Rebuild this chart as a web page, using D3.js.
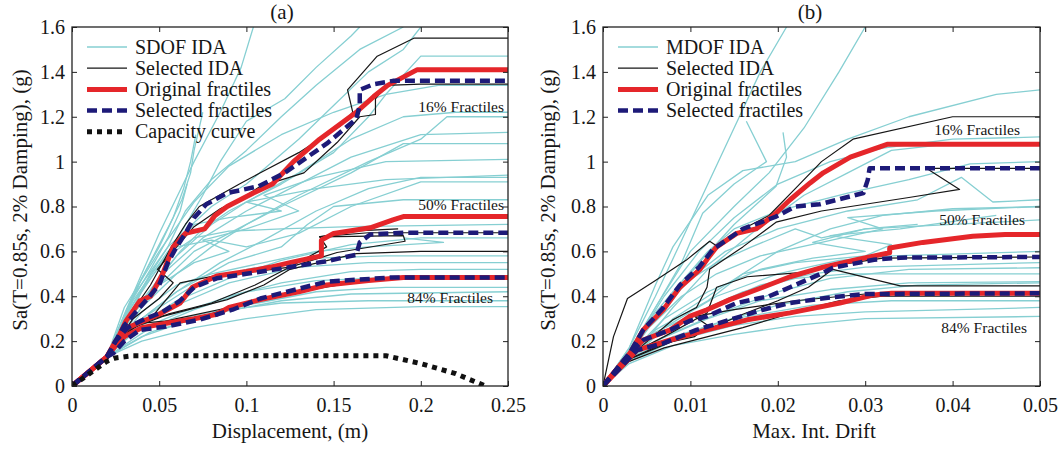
<!DOCTYPE html>
<html>
<head>
<meta charset="utf-8">
<script src="https://cdn.jsdelivr.net/npm/d3@7"></script>
<style>
  body { margin: 0; background: #fff; }
</style>
</head>
<body>
<svg id="chart" width="1062" height="450"></svg>
<script>
// ---------- tick values ----------
const saTicks = [0, 0.2, 0.4, 0.6, 0.8, 1, 1.2, 1.4, 1.6];
const dispTicks = [0, 0.05, 0.1, 0.15, 0.2, 0.25];
const driftTicks = [0, 0.01, 0.02, 0.03, 0.04, 0.05];

// ---------- (a) SDOF: [displacement (m), Sa (g)] ----------
const sdofIDA = [
  [[0,0],[0.02,0.13],[0.03,0.3],[0.04,0.48],[0.05,0.62],[0.058,0.75],[0.064,0.88],[0.068,1.0],[0.071,1.12]],
  [[0,0],[0.02,0.13],[0.03,0.32],[0.04,0.5],[0.05,0.68],[0.06,0.84],[0.07,1.0],[0.085,1.22],[0.097,1.42],[0.104,1.6]],
  [[0,0],[0.02,0.13],[0.032,0.3],[0.045,0.5],[0.055,0.62],[0.065,0.78],[0.08,0.92],[0.1,1.05],[0.12,1.2],[0.14,1.34],[0.165,1.5],[0.19,1.6]],
  [[0,0],[0.02,0.13],[0.035,0.32],[0.05,0.48],[0.062,0.6],[0.075,0.7],[0.09,0.78],[0.12,0.9],[0.15,1.04],[0.17,1.2],[0.18,1.3],[0.2,1.47],[0.25,1.47]],
  [[0,0],[0.02,0.13],[0.04,0.35],[0.06,0.5],[0.08,0.62],[0.1,0.72],[0.13,0.85],[0.17,1.0],[0.2,1.1],[0.215,1.2],[0.25,1.2]],
  [[0,0],[0.02,0.13],[0.04,0.3],[0.06,0.42],[0.085,0.55],[0.11,0.65],[0.14,0.78],[0.17,0.88],[0.2,0.93],[0.25,0.93]],
  [[0,0],[0.02,0.13],[0.035,0.3],[0.05,0.45],[0.07,0.6],[0.1,0.72],[0.12,0.8],[0.16,0.95],[0.19,1.08],[0.25,1.08]],
  [[0,0],[0.02,0.13],[0.04,0.28],[0.06,0.38],[0.09,0.48],[0.12,0.56],[0.16,0.63],[0.2,0.66],[0.25,0.66]],
  [[0,0],[0.02,0.13],[0.03,0.25],[0.05,0.35],[0.07,0.45],[0.1,0.52],[0.14,0.57],[0.18,0.58],[0.25,0.58]],
  [[0,0],[0.02,0.13],[0.035,0.24],[0.06,0.32],[0.09,0.4],[0.12,0.46],[0.16,0.51],[0.2,0.52],[0.25,0.52]],
  [[0,0],[0.02,0.13],[0.04,0.22],[0.07,0.3],[0.1,0.36],[0.14,0.42],[0.18,0.44],[0.25,0.44]],
  [[0,0],[0.02,0.13],[0.04,0.2],[0.07,0.26],[0.1,0.3],[0.14,0.34],[0.2,0.354],[0.25,0.354]],
  [[0,0],[0.02,0.13],[0.045,0.24],[0.08,0.32],[0.12,0.38],[0.16,0.41],[0.25,0.42]],
  [[0,0],[0.02,0.13],[0.04,0.27],[0.06,0.36],[0.09,0.46],[0.13,0.53],[0.17,0.55],[0.25,0.55]],
  [[0,0],[0.02,0.13],[0.03,0.28],[0.05,0.45],[0.07,0.55],[0.09,0.6],[0.075,0.65],[0.1,0.7],[0.13,0.78],[0.11,0.85],[0.14,0.93],[0.18,1.0],[0.25,1.01]],
  [[0,0],[0.02,0.13],[0.03,0.3],[0.045,0.5],[0.06,0.62],[0.08,0.65],[0.1,0.62],[0.13,0.68],[0.16,0.8],[0.2,0.91],[0.25,0.91]],
  [[0,0],[0.02,0.13],[0.028,0.28],[0.038,0.45],[0.048,0.6],[0.056,0.72],[0.063,0.83],[0.068,0.95],[0.07,1.05],[0.075,1.22]],
  [[0,0],[0.02,0.13],[0.032,0.35],[0.045,0.52],[0.055,0.66],[0.062,0.78],[0.066,0.9]],
  [[0,0],[0.02,0.13],[0.04,0.42],[0.06,0.65],[0.075,0.85],[0.085,1.0],[0.1,1.18],[0.122,1.28],[0.14,1.42],[0.16,1.56],[0.165,1.6]],
  [[0,0],[0.02,0.13],[0.035,0.38],[0.055,0.6],[0.07,0.72],[0.09,0.75],[0.12,0.78],[0.1,0.82],[0.14,0.88],[0.18,0.92],[0.25,0.94]],
  [[0,0],[0.02,0.13],[0.04,0.33],[0.06,0.45],[0.08,0.5],[0.11,0.55],[0.14,0.6],[0.17,0.62],[0.213,0.64],[0.19,0.66]],
  [[0,0],[0.02,0.13],[0.03,0.22],[0.05,0.28],[0.08,0.33],[0.12,0.37],[0.17,0.38],[0.25,0.38]],
  [[0,0],[0.02,0.13],[0.045,0.26],[0.07,0.34],[0.1,0.42],[0.14,0.47],[0.2,0.49],[0.25,0.49]],
  [[0,0],[0.02,0.13],[0.03,0.35],[0.05,0.6],[0.07,0.82],[0.09,0.98],[0.12,1.12],[0.15,1.22],[0.18,1.3],[0.21,1.34],[0.25,1.34]],
  [[0,0],[0.02,0.13],[0.035,0.4],[0.055,0.62],[0.08,0.8],[0.1,0.9],[0.13,1.1],[0.15,1.25],[0.17,1.4],[0.19,1.5],[0.2,1.6]],
  [[0,0],[0.02,0.13],[0.04,0.3],[0.06,0.42],[0.09,0.55],[0.12,0.62],[0.135,0.72],[0.15,0.8],[0.19,0.83],[0.25,0.83]],
  [[0,0],[0.02,0.13],[0.04,0.38],[0.06,0.58],[0.08,0.72],[0.1,0.82],[0.13,0.95],[0.16,1.1],[0.19,1.2],[0.22,1.22],[0.25,1.22]],
  [[0,0],[0.02,0.13],[0.035,0.33],[0.055,0.52],[0.075,0.66],[0.1,0.78],[0.13,0.9],[0.16,1.02],[0.2,1.12],[0.25,1.13]],
  [[0,0],[0.02,0.13],[0.03,0.3],[0.042,0.45],[0.055,0.58],[0.07,0.66],[0.09,0.69],[0.12,0.7],[0.16,0.71],[0.25,0.72]]
];

const sdofSelectedIDA = [
  [[0,0],[0.02,0.13],[0.03,0.28],[0.045,0.45],[0.057,0.62],[0.065,0.72],[0.073,0.8],[0.096,0.9],[0.108,0.95],[0.13,1.04],[0.154,1.16],[0.161,1.22],[0.158,1.32],[0.175,1.47],[0.196,1.55],[0.25,1.55]],
  [[0,0],[0.02,0.13],[0.035,0.3],[0.05,0.39],[0.058,0.46],[0.049,0.52],[0.06,0.62],[0.07,0.71],[0.085,0.79],[0.1,0.85],[0.108,0.89],[0.133,0.95],[0.152,1.085],[0.165,1.2],[0.174,1.21],[0.174,1.28],[0.18,1.34],[0.2,1.345],[0.25,1.345]],
  [[0,0],[0.02,0.13],[0.03,0.24],[0.045,0.3],[0.062,0.46],[0.081,0.49],[0.105,0.51],[0.125,0.53],[0.146,0.62],[0.142,0.666],[0.17,0.683],[0.25,0.683]],
  [[0,0],[0.02,0.13],[0.035,0.26],[0.052,0.31],[0.089,0.385],[0.11,0.45],[0.125,0.52],[0.163,0.59],[0.2,0.6],[0.25,0.6]],
  [[0,0],[0.02,0.13],[0.035,0.27],[0.055,0.32],[0.08,0.37],[0.105,0.45],[0.125,0.53],[0.152,0.595],[0.191,0.645],[0.19,0.67],[0.142,0.665],[0.16,0.69],[0.187,0.7]],
  [[0,0],[0.02,0.13],[0.03,0.23],[0.04,0.28],[0.055,0.29],[0.075,0.31],[0.1,0.37],[0.13,0.42],[0.16,0.46],[0.19,0.484],[0.25,0.484]],
  [[0,0],[0.02,0.13],[0.028,0.22],[0.04,0.26],[0.06,0.3],[0.09,0.35],[0.12,0.41],[0.15,0.455],[0.18,0.475],[0.25,0.478]]
];

const sdofOriginal16 = [[0,0],[0.02,0.13],[0.025,0.19],[0.031,0.29],[0.039,0.38],[0.045,0.4],[0.052,0.5],[0.058,0.62],[0.065,0.68],[0.076,0.7],[0.082,0.76],[0.089,0.8],[0.104,0.86],[0.115,0.9],[0.127,1.0],[0.142,1.1],[0.163,1.22],[0.173,1.29],[0.181,1.34],[0.198,1.41],[0.25,1.41]];
const sdofOriginal50 = [[0,0],[0.02,0.13],[0.025,0.2],[0.032,0.26],[0.041,0.29],[0.05,0.32],[0.062,0.37],[0.069,0.44],[0.083,0.49],[0.1,0.51],[0.114,0.53],[0.125,0.55],[0.143,0.58],[0.143,0.65],[0.15,0.68],[0.171,0.705],[0.184,0.74],[0.19,0.755],[0.25,0.755]];
const sdofOriginal84 = [[0,0],[0.02,0.13],[0.025,0.18],[0.03,0.22],[0.04,0.26],[0.054,0.28],[0.07,0.3],[0.083,0.32],[0.09,0.35],[0.108,0.385],[0.13,0.42],[0.146,0.45],[0.17,0.47],[0.19,0.484],[0.25,0.484]];
const sdofSelected16 = [[0,0],[0.02,0.13],[0.025,0.2],[0.03,0.27],[0.04,0.36],[0.05,0.45],[0.055,0.55],[0.06,0.62],[0.065,0.68],[0.07,0.75],[0.077,0.81],[0.089,0.86],[0.107,0.89],[0.122,0.95],[0.146,1.08],[0.163,1.19],[0.165,1.25],[0.165,1.32],[0.173,1.345],[0.184,1.36],[0.25,1.36]];
const sdofSelected50 = [[0,0],[0.02,0.13],[0.025,0.2],[0.032,0.26],[0.042,0.3],[0.052,0.33],[0.062,0.38],[0.07,0.44],[0.083,0.48],[0.1,0.5],[0.125,0.53],[0.145,0.555],[0.163,0.585],[0.165,0.64],[0.171,0.675],[0.19,0.683],[0.25,0.683]];
const sdofSelected84 = [[0,0],[0.02,0.13],[0.0237,0.146],[0.03,0.2],[0.039,0.25],[0.054,0.265],[0.073,0.295],[0.092,0.34],[0.108,0.39],[0.146,0.465],[0.184,0.484],[0.25,0.484]];
const capacityCurve = [[0,0],[0.02,0.11],[0.025,0.125],[0.035,0.135],[0.18,0.135],[0.2,0.1],[0.22,0.055],[0.237,0]];

// ---------- (b) MDOF: [max. interstorey drift, Sa (g)] ----------
const mdofIDA = [
  [[0,0],[0.003,0.15],[0.006,0.35],[0.009,0.55],[0.0114,0.77],[0.015,0.9],[0.0187,1.0],[0.0164,1.18]],
  [[0,0],[0.003,0.15],[0.007,0.35],[0.011,0.55],[0.015,0.72],[0.0198,0.89],[0.021,1.02],[0.0206,1.13]],
  [[0,0],[0.003,0.16],[0.006,0.35],[0.01,0.6],[0.015,0.8],[0.019,0.95],[0.023,1.15],[0.027,1.4],[0.03,1.6]],
  [[0,0],[0.003,0.17],[0.006,0.45],[0.008,0.62],[0.012,0.85],[0.016,0.96],[0.022,1.0],[0.028,1.1],[0.035,1.2],[0.045,1.3],[0.05,1.32]],
  [[0,0],[0.003,0.15],[0.007,0.4],[0.011,0.6],[0.015,0.75],[0.02,0.9],[0.026,1.0],[0.032,1.06],[0.04,1.1],[0.05,1.11]],
  [[0,0],[0.004,0.16],[0.008,0.35],[0.012,0.52],[0.017,0.68],[0.023,0.85],[0.028,0.95],[0.033,1.05],[0.04,1.08],[0.05,1.085]],
  [[0,0],[0.004,0.15],[0.008,0.3],[0.014,0.45],[0.02,0.6],[0.026,0.7],[0.032,0.76],[0.04,0.79],[0.05,0.8]],
  [[0,0],[0.003,0.12],[0.006,0.22],[0.012,0.35],[0.018,0.45],[0.024,0.5],[0.03,0.53],[0.05,0.55]],
  [[0,0],[0.003,0.12],[0.007,0.22],[0.013,0.32],[0.02,0.42],[0.026,0.48],[0.035,0.52],[0.05,0.527]],
  [[0,0],[0.003,0.14],[0.006,0.25],[0.012,0.38],[0.016,0.5],[0.022,0.55],[0.03,0.58],[0.033,0.63],[0.026,0.67],[0.034,0.7],[0.045,0.76]],
  [[0,0],[0.003,0.12],[0.007,0.2],[0.013,0.28],[0.02,0.36],[0.028,0.42],[0.036,0.45],[0.05,0.46]],
  [[0,0],[0.003,0.11],[0.008,0.2],[0.015,0.27],[0.022,0.31],[0.03,0.33],[0.05,0.35]],
  [[0,0],[0.003,0.1],[0.008,0.18],[0.015,0.23],[0.022,0.27],[0.03,0.3],[0.05,0.31]],
  [[0,0],[0.003,0.12],[0.006,0.2],[0.012,0.3],[0.018,0.38],[0.026,0.43],[0.035,0.46],[0.05,0.465]],
  [[0,0],[0.003,0.15],[0.005,0.25],[0.009,0.4],[0.013,0.5],[0.018,0.58],[0.025,0.64],[0.032,0.7],[0.028,0.75],[0.038,0.78],[0.05,0.8]],
  [[0,0],[0.003,0.16],[0.005,0.28],[0.008,0.42],[0.012,0.6],[0.015,0.7],[0.02,0.78],[0.028,0.86],[0.035,0.92],[0.042,0.99],[0.05,1.0]],
  [[0,0],[0.003,0.13],[0.007,0.26],[0.013,0.4],[0.02,0.5],[0.027,0.56],[0.033,0.58],[0.05,0.6]],
  [[0,0],[0.003,0.14],[0.007,0.3],[0.012,0.42],[0.018,0.52],[0.024,0.57],[0.03,0.6],[0.024,0.64],[0.03,0.7],[0.036,0.72]],
  [[0,0],[0.003,0.11],[0.008,0.22],[0.015,0.3],[0.024,0.36],[0.033,0.38],[0.05,0.38]],
  [[0,0],[0.003,0.13],[0.006,0.24],[0.011,0.33],[0.016,0.42],[0.022,0.48],[0.028,0.5],[0.05,0.5]],
  [[0,0],[0.003,0.14],[0.006,0.3],[0.01,0.48],[0.014,0.6],[0.02,0.7],[0.028,0.78],[0.036,0.83],[0.041,0.93],[0.0446,0.82],[0.05,0.83]],
  [[0,0],[0.003,0.15],[0.006,0.3],[0.009,0.45],[0.013,0.55],[0.017,0.62],[0.022,0.7],[0.025,0.66],[0.03,0.7],[0.04,0.72],[0.05,0.74]],
  [[0,0],[0.003,0.17],[0.006,0.4],[0.009,0.65],[0.012,0.9],[0.015,1.15],[0.018,1.4],[0.021,1.6]]
];

const mdofSelectedIDA = [
  [[0,0],[0.0012,0.22],[0.0028,0.39],[0.006,0.47],[0.0095,0.56],[0.0122,0.645],[0.0132,0.62],[0.016,0.7],[0.019,0.76],[0.022,0.88],[0.025,1.0],[0.0286,1.1],[0.04,1.2],[0.05,1.2]],
  [[0,0],[0.003,0.13],[0.006,0.23],[0.008,0.295],[0.0107,0.35],[0.0119,0.44],[0.0122,0.52],[0.016,0.62],[0.0198,0.73],[0.025,0.78],[0.035,0.84],[0.0408,0.876],[0.037,0.97],[0.05,0.97]],
  [[0,0],[0.003,0.14],[0.007,0.22],[0.0119,0.325],[0.013,0.44],[0.0165,0.487],[0.0225,0.505],[0.027,0.54],[0.032,0.57],[0.05,0.575]],
  [[0,0],[0.003,0.12],[0.008,0.2],[0.0119,0.25],[0.016,0.32],[0.02,0.38],[0.0235,0.44],[0.0263,0.52],[0.034,0.446],[0.05,0.446]],
  [[0,0],[0.003,0.11],[0.007,0.17],[0.011,0.21],[0.016,0.26],[0.022,0.33],[0.027,0.38],[0.032,0.4],[0.05,0.4]],
  [[0,0],[0.003,0.12],[0.007,0.19],[0.0105,0.22],[0.012,0.27],[0.0105,0.31],[0.015,0.34],[0.022,0.38],[0.03,0.41],[0.05,0.413]]
];

const mdofOriginal16 = [[0,0],[0.0031,0.146],[0.0046,0.25],[0.0069,0.34],[0.0088,0.44],[0.0111,0.52],[0.0122,0.58],[0.013,0.62],[0.0153,0.68],[0.0175,0.7],[0.0195,0.76],[0.0214,0.83],[0.0237,0.905],[0.0252,0.95],[0.0283,1.02],[0.0325,1.077],[0.05,1.077]];
const mdofOriginal50 = [[0,0],[0.0031,0.146],[0.0046,0.205],[0.0077,0.25],[0.0099,0.31],[0.0119,0.34],[0.0145,0.385],[0.0183,0.44],[0.0214,0.487],[0.0252,0.53],[0.029,0.563],[0.0328,0.594],[0.0328,0.615],[0.0366,0.64],[0.0423,0.667],[0.046,0.675],[0.05,0.675]];
const mdofOriginal84 = [[0,0],[0.0039,0.16],[0.0077,0.205],[0.0119,0.25],[0.0165,0.295],[0.0214,0.326],[0.0271,0.37],[0.031,0.406],[0.033,0.413],[0.05,0.413]];
const mdofSelected16 = [[0,0],[0.0031,0.15],[0.0046,0.25],[0.0069,0.35],[0.0088,0.45],[0.011,0.53],[0.0126,0.61],[0.016,0.7],[0.0198,0.755],[0.022,0.8],[0.0248,0.81],[0.0298,0.86],[0.0303,0.92],[0.0305,0.97],[0.05,0.97]];
const mdofSelected50 = [[0,0],[0.0031,0.146],[0.0046,0.205],[0.0077,0.25],[0.0099,0.29],[0.0119,0.31],[0.0153,0.37],[0.019,0.4],[0.0214,0.44],[0.0252,0.505],[0.0263,0.527],[0.031,0.563],[0.034,0.572],[0.05,0.575]];
const mdofSelected84 = [[0,0],[0.0039,0.16],[0.0069,0.19],[0.0107,0.25],[0.0145,0.295],[0.0183,0.34],[0.0214,0.37],[0.026,0.395],[0.03,0.41],[0.05,0.413]];

// ---------- styles ----------
const FONT = "'Liberation Serif', 'Times New Roman', Times, serif";
const COLORS = { ida: "#86cfd2", sel: "#161616", orig: "#e5262a", fract: "#1d1a78", cap: "#111" };
const STYLES = {
  ida:   { stroke: COLORS.ida,   width: 1.3, dash: null },
  sel:   { stroke: COLORS.sel,   width: 1.2, dash: null },
  orig:  { stroke: COLORS.orig,  width: 5,   dash: null },
  fract: { stroke: COLORS.fract, width: 4.5, dash: "10,5" },
  cap:   { stroke: COLORS.cap,   width: 5,   dash: "5,5" }
};

const svg = d3.select("#chart");
const TOP = 27, BOTTOM = 386;
const fmt = d3.format("~g");

function drawPanel(p) {
  const x = d3.scaleLinear().domain([0, p.xTicks[p.xTicks.length - 1]]).range([p.left, p.right]);
  const y = d3.scaleLinear().domain([0, 1.6]).range([BOTTOM, TOP]);
  const line = d3.line().x(d => x(d[0])).y(d => y(d[1]));

  svg.append("clipPath").attr("id", p.id + "-clip")
    .append("rect").attr("x", p.left).attr("y", TOP).attr("width", p.right - p.left).attr("height", BOTTOM - TOP);

  const plot = svg.append("g").attr("clip-path", `url(#${p.id}-clip)`);

  function addLines(data, st) {
    plot.append("g").selectAll("path").data(data).join("path")
      .attr("d", line).attr("fill", "none")
      .attr("stroke", st.stroke).attr("stroke-width", st.width)
      .attr("stroke-dasharray", st.dash).attr("stroke-linejoin", "round");
  }
  addLines(p.ida, STYLES.ida);
  addLines(p.selected, STYLES.sel);
  addLines(p.original, STYLES.orig);
  addLines(p.fractiles, STYLES.fract);
  if (p.capacity) addLines([p.capacity], STYLES.cap);

  // axes with inward ticks on all four sides
  const axes = [
    svg.append("g").attr("transform", `translate(0,${BOTTOM})`)
      .call(d3.axisBottom(x).tickValues(p.xTicks).tickFormat(fmt).tickSizeInner(-5).tickSizeOuter(0).tickPadding(12)),
    svg.append("g").attr("transform", `translate(${p.left},0)`)
      .call(d3.axisLeft(y).tickValues(saTicks).tickFormat(fmt).tickSizeInner(-5).tickSizeOuter(0).tickPadding(7)),
    svg.append("g").attr("transform", `translate(0,${TOP})`)
      .call(d3.axisTop(x).tickValues(p.xTicks).tickFormat("").tickSizeInner(-5).tickSizeOuter(0)),
    svg.append("g").attr("transform", `translate(${p.right},0)`)
      .call(d3.axisRight(y).tickValues(saTicks).tickFormat("").tickSizeInner(-5).tickSizeOuter(0))
  ];
  axes.forEach(a => {
    a.attr("font-size", 20).attr("font-family", FONT);
    a.select(".domain").remove();
    a.selectAll(".tick line").attr("stroke", "#222");
    a.selectAll(".tick text").attr("fill", "#161616");
  });

  svg.append("rect").attr("x", p.left).attr("y", TOP)
    .attr("width", p.right - p.left).attr("height", BOTTOM - TOP)
    .attr("fill", "none").attr("stroke", "#222").attr("stroke-width", 1.3);

  // legend
  const lg = svg.append("g");
  p.legend.forEach((item, i) => {
    const st = STYLES[item.key];
    const cy = 47 + i * 21.2;
    lg.append("line").attr("x1", p.left + 15).attr("x2", p.left + 55).attr("y1", cy).attr("y2", cy)
      .attr("stroke", st.stroke).attr("stroke-width", st.width).attr("stroke-dasharray", st.dash);
    lg.append("text").attr("x", p.left + 63).attr("y", cy + 6.5).attr("font-size", 20).text(item.label);
  });

  // fractile annotations
  p.notes.forEach(n => {
    svg.append("text").attr("x", n.x).attr("y", n.y).attr("text-anchor", "end")
      .attr("font-size", 15.5).text(n.text);
  });

  // titles
  svg.append("text").attr("x", p.titleX).attr("y", 19).attr("text-anchor", "middle").attr("font-size", 21).text(p.title);
  svg.append("text").attr("x", p.xLabelX).attr("y", 438).attr("text-anchor", "middle").attr("font-size", 21).text(p.xLabel);
  svg.append("text").attr("transform", `translate(${p.yLabelX},200) rotate(-90)`)
    .attr("text-anchor", "middle").attr("dominant-baseline", "central").attr("font-size", 21)
    .text("Sa(T=0.85s, 2% Damping), (g)");
}

drawPanel({
  id: "a", left: 72, right: 508, xTicks: dispTicks,
  ida: sdofIDA, selected: sdofSelectedIDA,
  original: [sdofOriginal16, sdofOriginal50, sdofOriginal84],
  fractiles: [sdofSelected16, sdofSelected50, sdofSelected84],
  capacity: capacityCurve,
  legend: [
    { key: "ida", label: "SDOF IDA" },
    { key: "sel", label: "Selected IDA" },
    { key: "orig", label: "Original fractiles" },
    { key: "fract", label: "Selected fractiles" },
    { key: "cap", label: "Capacity curve" }
  ],
  notes: [
    { x: 504, y: 112, text: "16% Fractiles" },
    { x: 504, y: 210, text: "50% Fractiles" },
    { x: 493, y: 303, text: "84% Fractiles" }
  ],
  title: "(a)", titleX: 282, xLabel: "Displacement, (m)", xLabelX: 290, yLabelX: 20
});

drawPanel({
  id: "b", left: 603, right: 1040, xTicks: driftTicks,
  ida: mdofIDA, selected: mdofSelectedIDA,
  original: [mdofOriginal16, mdofOriginal50, mdofOriginal84],
  fractiles: [mdofSelected16, mdofSelected50, mdofSelected84],
  capacity: null,
  legend: [
    { key: "ida", label: "MDOF IDA" },
    { key: "sel", label: "Selected IDA" },
    { key: "orig", label: "Original fractiles" },
    { key: "fract", label: "Selected fractiles" }
  ],
  notes: [
    { x: 1020, y: 135, text: "16% Fractiles" },
    { x: 1025, y: 225, text: "50% Fractiles" },
    { x: 1027, y: 333, text: "84% Fractiles" }
  ],
  title: "(b)", titleX: 810, xLabel: "Max. Int. Drift", xLabelX: 814, yLabelX: 548
});

// one serif face for every label
svg.selectAll("text").style("font-family", FONT).style("fill", "#161616");
</script>
</body>
</html>
